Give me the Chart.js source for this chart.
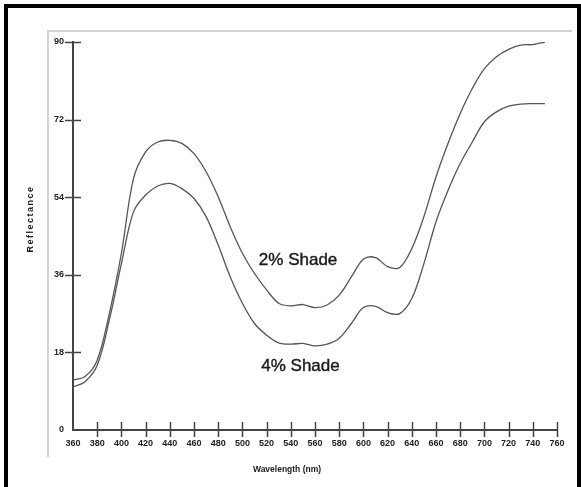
<!DOCTYPE html>
<html>
<head>
<meta charset="utf-8">
<script src="https://cdn.jsdelivr.net/npm/chart.js@4/dist/chart.umd.min.js"></script>
<style>
  html, body { margin: 0; padding: 0; background: #fff; }
  #wrap { position: relative; width: 581px; height: 487px; overflow: hidden; }
  #frame { position: absolute; left: 4px; top: 4px; width: 569px; height: 500px;
           border-left: 4px solid #000; border-top: 4px solid #000; border-right: 4px solid #000; }
  #plotbox { position: absolute; left: 47px; top: 30px; width: 523px; height: 425px;
             border-left: 2px solid #d4d4d4; border-top: 2px solid #d4d4d4; }
  #statusChart { position: absolute; left: 0; top: 0; }
</style>
</head>
<body>
<div id="wrap">
  <div id="frame"></div>
  <div id="plotbox"></div>
  <canvas id="statusChart" width="581" height="487"></canvas>
</div>
<script>
// wavelength (nm)
var wavelengths = [360,370,380,390,400,410,420,430,440,450,460,470,480,490,500,510,520,530,540,550,
                   560,570,580,590,600,610,620,630,640,650,660,670,680,690,700,710,720,730,740,750];
// reflectance, 2% shade
var shade2 = [11.6,12.4,16.2,27.0,41.0,58.3,64.5,66.8,67.2,66.5,64.1,59.9,54.1,47.1,41.0,36.3,32.5,29.4,28.8,29.1,
              28.4,29.0,31.3,35.5,39.6,40.0,37.9,37.7,42.1,49.5,58.7,66.5,73.4,79.2,83.8,86.6,88.3,89.3,89.4,90.0];
// reflectance, 4% shade
var shade4 = [10.0,11.2,15.0,25.5,38.6,50.6,54.5,56.6,57.2,56.0,53.7,49.5,42.9,35.5,29.4,24.7,22.0,20.2,19.9,20.1,
              19.5,19.9,21.3,24.7,28.4,28.7,27.2,27.0,30.5,38.6,48.3,55.6,61.8,66.8,71.5,73.8,75.1,75.6,75.7,75.7];

var labelText = ['2% Shade', '4% Shade'];
var labelX = [546, 548];
var labelY = [39.4, 14.7];

var xTitle = 'Wavelength (nm)';
var yTitle = 'Reflectance';

function toPoints(ys){
	var pts = [];
	for(var i=0;i<wavelengths.length;i++){
		pts.push({x: wavelengths[i], y: ys[i]});
	}
	return pts;
}

var axisColor = '#444';
var tickFont = {family: 'Liberation Sans', size: 9, weight: 'bold'};

var crossTicks = {
	id: 'crossTicks',
	afterDraw: function(chart){
		var ctx = chart.ctx;
		var xs = chart.scales.x, ys = chart.scales.y;
		var a = chart.chartArea;
		ctx.save();
		ctx.strokeStyle = axisColor;
		ctx.lineWidth = 1.5;
		xs.ticks.forEach(function(t){
			if(t.value === 360) return;
			var px = Math.round(xs.getPixelForValue(t.value)) + 0.5;
			ctx.beginPath();
			ctx.moveTo(px, a.bottom - 8);
			ctx.lineTo(px, a.bottom + 7);
			ctx.stroke();
		});
		ys.ticks.forEach(function(t){
			if(t.value === 0) return;
			var py = Math.round(ys.getPixelForValue(t.value)) + 0.5;
			ctx.beginPath();
			ctx.moveTo(a.left - 8, py);
			ctx.lineTo(a.left + 8, py);
			ctx.stroke();
		});

		// curve labels
		ctx.fillStyle = '#1a1a1a';
		ctx.strokeStyle = '#1a1a1a';
		ctx.lineWidth = 0.4;
		ctx.font = '17px "Liberation Sans"';
		ctx.textAlign = 'center';
		ctx.textBaseline = 'middle';
		for(var i=0;i<labelText.length;i++){
			var lx = xs.getPixelForValue(labelX[i]), ly = ys.getPixelForValue(labelY[i]);
			ctx.fillText(labelText[i], lx, ly);
			ctx.strokeText(labelText[i], lx, ly);
		}

		// axis titles
		ctx.font = 'bold 8.5px "Liberation Sans"';
		ctx.fillText(xTitle, 287, 470);
		ctx.save();
		ctx.translate(31, 219);
		ctx.rotate(-Math.PI/2);
		ctx.font = 'bold 9px "Liberation Sans"';
		if('letterSpacing' in ctx) ctx.letterSpacing = '1.5px';
		ctx.fillText(yTitle, 0, 0);
		ctx.restore();
		ctx.restore();
	}
};

var ctx = document.getElementById('statusChart');

var myChart = new Chart(ctx, {
	type: 'line',
	data: {
		datasets: [{
			label: '2% Shade',
			data: toPoints(shade2),
			borderColor: '#555',
			borderWidth: 1.3,
			pointRadius: 0,
			tension: 0.35,
			fill: false
		},{
			label: '4% Shade',
			data: toPoints(shade4),
			borderColor: '#555',
			borderWidth: 1.3,
			pointRadius: 0,
			tension: 0.35,
			fill: false
		}]
	},
	plugins: [crossTicks],
	options: {
		responsive: false,
		animation: false,
		devicePixelRatio: 1,
		layout: {padding: {left: 23, right: 24, top: 42, bottom: 0}},
		plugins: {
			legend: {display: false},
			tooltip: {enabled: false}
		},
		scales: {
			x: {
				type: 'linear',
				min: 360,
				max: 760,
				afterFit: function(s){ s.height = 57; },
				ticks: {stepSize: 20, padding: 8, color: '#222', font: tickFont, maxRotation: 0, autoSkip: false},
				grid: {drawOnChartArea: false, drawTicks: false},
				border: {display: true, color: axisColor, width: 2}
			},
			y: {
				min: 0,
				max: 90,
				afterFit: function(s){ s.width = 50; },
				ticks: {stepSize: 18, padding: 9, color: '#222', font: tickFont},
				grid: {drawOnChartArea: false, drawTicks: false},
				border: {display: true, color: axisColor, width: 2}
			}
		}
	}
});
</script>
</body>
</html>
